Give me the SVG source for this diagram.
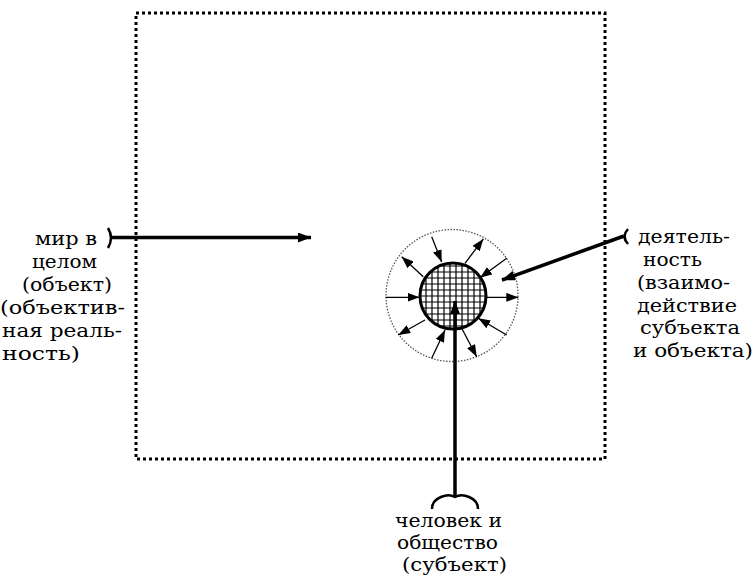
<svg xmlns="http://www.w3.org/2000/svg" width="753" height="580" viewBox="0 0 753 580">
<style>
.thin{stroke:#000;stroke-width:1.3;fill:none}
.big{stroke:#000;stroke-width:3.5;fill:none}
.brk{stroke:#000;stroke-width:2.5;fill:none}
.lbl{font-family:'DejaVu Serif',serif;font-size:19px;fill:#000}
</style>
<defs>
<marker id="sa" markerUnits="userSpaceOnUse" viewBox="0 0 12 9" refX="12" refY="4.5" markerWidth="12" markerHeight="9" orient="auto"><path d="M0,0L12,4.5L0,9Z" fill="#000"/></marker>
<marker id="ba" markerUnits="userSpaceOnUse" viewBox="0 0 13 10" refX="13" refY="5" markerWidth="13" markerHeight="10" orient="auto"><path d="M0,0L13,5L0,10Z" fill="#000"/></marker>
<clipPath id="cc"><circle cx="453" cy="296" r="33"/></clipPath>
</defs>
<g id="world">
<rect x="136" y="13" width="469" height="446" fill="none" stroke="#000" stroke-width="3" stroke-dasharray="3 3"/>
</g>
<g id="activity-field">
<circle cx="452" cy="295.5" r="66" fill="none" stroke="#555" stroke-width="1.3" stroke-dasharray="1.5 1.5"/>
</g>
<g id="subject-core">
<g clip-path="url(#cc)" stroke="#000" stroke-width="1.2">
<path d="M420,262V330M426,262V330M432,262V330M438,262V330M444,262V330M450,262V330M456,262V330M462,262V330M468,262V330M474,262V330M480,262V330M486,262V330"/>
<path d="M418,266H488M418,272H488M418,278H488M418,284H488M418,290H488M418,296H488M418,302H488M418,308H488M418,314H488M418,320H488M418,326H488"/>
</g>
<circle cx="453" cy="296" r="33" fill="none" stroke="#000" stroke-width="3"/>
</g>
<g id="connectors">
<g class="thin" marker-end="url(#sa)">
<line x1="431.7" y1="236.7" x2="441.7" y2="262"/>
<line x1="465" y1="263.3" x2="483.3" y2="239"/>
<line x1="423.3" y1="276.7" x2="401.7" y2="256.7"/>
<line x1="506.7" y1="258.3" x2="480" y2="277.7"/>
<line x1="385.7" y1="297.3" x2="419.5" y2="297.3"/>
<line x1="486" y1="297.3" x2="518.3" y2="297.3"/>
<line x1="425" y1="320" x2="398.3" y2="335"/>
<line x1="506.7" y1="335" x2="478.3" y2="318.3"/>
<line x1="431.7" y1="358.3" x2="445" y2="330"/>
<line x1="461.7" y1="328.3" x2="476.7" y2="356.7"/>
</g>
<line class="big" x1="112" y1="237.5" x2="311" y2="237.5" marker-end="url(#ba)"/>
<line class="big" x1="624" y1="236" x2="502" y2="280" marker-end="url(#ba)"/>
<line class="big" x1="455" y1="496" x2="455" y2="301" marker-end="url(#ba)"/>
<path class="brk" d="M108,228Q114,238 108,248"/>
<path class="brk" d="M628,229Q621,236.5 628,244"/>
<path class="brk" stroke-width="3" d="M432,509C432,497 448,493 455,497C462,493 478,497 478,509"/>
</g>
<g id="label-world" class="lbl">
<text x="35" y="245" textLength="62" lengthAdjust="spacingAndGlyphs">мир в</text>
<text x="32" y="268" textLength="65" lengthAdjust="spacingAndGlyphs">целом</text>
<text x="22" y="291" textLength="90" lengthAdjust="spacingAndGlyphs">(объект)</text>
<text x="0" y="314" textLength="125" lengthAdjust="spacingAndGlyphs">(объектив-</text>
<text x="2" y="337" textLength="120" lengthAdjust="spacingAndGlyphs">ная реаль-</text>
<text x="2" y="360" textLength="78" lengthAdjust="spacingAndGlyphs">ность)</text>
</g>
<g id="label-activity" class="lbl">
<text x="638" y="243" textLength="92" lengthAdjust="spacingAndGlyphs">деятель-</text>
<text x="643" y="266" textLength="59" lengthAdjust="spacingAndGlyphs">ность</text>
<text x="637" y="289" textLength="93" lengthAdjust="spacingAndGlyphs">(взаимо-</text>
<text x="637" y="312" textLength="100" lengthAdjust="spacingAndGlyphs">действие</text>
<text x="640" y="334" textLength="100" lengthAdjust="spacingAndGlyphs">субъекта</text>
<text x="633" y="357" textLength="120" lengthAdjust="spacingAndGlyphs">и объекта)</text>
</g>
<g id="label-subject" class="lbl">
<text x="395" y="527" textLength="107" lengthAdjust="spacingAndGlyphs">человек и</text>
<text x="397" y="549" textLength="101" lengthAdjust="spacingAndGlyphs">общество</text>
<text x="402" y="571" textLength="105" lengthAdjust="spacingAndGlyphs">(субъект)</text>
</g>
</svg>
